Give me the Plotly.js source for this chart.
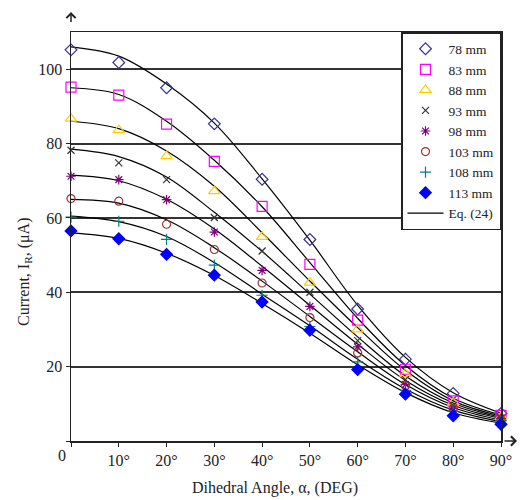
<!DOCTYPE html>
<html>
<head>
<meta charset="utf-8">
<script src="https://cdn.plot.ly/plotly-3.0.1.min.js"></script>
<style>html,body{margin:0;padding:0;background:#fff;}#chart{width:520px;height:500px;}</style>
</head>
<body>
<div id="chart"></div>
<script>
// Dihedral angle (degrees)
var angles = [0, 10, 20, 30, 40, 50, 60, 70, 80, 90];
var xTickVals = [0, 10, 20, 30, 40, 50, 60, 70, 80, 90];
var xTickText = ['', '10°', '20°', '30°', '40°', '50°', '60°', '70°', '80°', '90°'];
var yTickVals = [0, 20, 40, 60, 80, 100];
var yTickText = ['', '20', '40', '60', '80', '100'];

var seriesNames = ['78 mm', '83 mm', '88 mm', '93 mm', '98 mm', '103 mm', '108 mm', '113 mm'];

// Measured current (µA)
var meas78  = [105.2, 101.8, 95.0, 85.3, 70.4, 54.2, 35.5, 22.0, 12.8, 7.4];
var meas83  = [95.2, 93.0, 85.2, 75.2, 63.1, 47.5, 32.5, 19.3, 10.8, 6.9];
var meas88  = [86.7, 83.6, 76.6, 67.2, 54.9, 42.6, 30.0, 18.0, 10.3, 6.5];
var meas93  = [78.2, 74.8, 70.3, 60.1, 51.1, 40.0, 27.0, 16.5, 9.5, 6.2];
var meas98  = [71.2, 70.3, 64.9, 56.2, 45.9, 36.2, 25.3, 15.2, 8.8, 6.0];
var meas103 = [65.2, 64.5, 58.3, 51.5, 42.5, 33.2, 23.7, 14.8, 8.6, 5.8];
var meas108 = [60.2, 59.1, 54.2, 47.3, 39.2, 30.8, 21.3, 13.6, 8.0, 5.4];
var meas113 = [56.5, 54.4, 50.2, 44.6, 37.4, 29.8, 19.2, 12.6, 6.8, 4.5];

// Eq. (24) curves (µA)
var eq78  = [106.0, 103.5, 96.0, 85.5, 70.5, 54.0, 36.5, 22.5, 13.0, 7.5];
var eq83  = [95.0, 93.2, 86.0, 75.5, 63.0, 48.0, 33.0, 20.3, 11.5, 7.0];
var eq88  = [86.0, 84.0, 78.0, 68.5, 56.0, 43.0, 30.5, 19.0, 10.8, 6.7];
var eq93  = [78.5, 76.5, 71.0, 61.5, 51.0, 39.5, 28.0, 17.5, 10.2, 6.3];
var eq98  = [71.5, 70.0, 65.0, 57.0, 47.0, 36.5, 26.0, 16.3, 9.6, 6.0];
var eq103 = [65.0, 64.0, 59.5, 52.0, 43.0, 33.5, 24.0, 15.2, 9.0, 5.6];
var eq108 = [60.5, 59.0, 55.0, 48.0, 39.5, 31.0, 22.0, 14.0, 8.3, 5.2];
var eq113 = [56.0, 54.5, 50.5, 44.5, 37.0, 29.0, 20.5, 13.0, 7.6, 4.8];

var measured = [meas78, meas83, meas88, meas93, meas98, meas103, meas108, meas113];
var fitted = [eq78, eq83, eq88, eq93, eq98, eq103, eq108, eq113];

var symbols = ['diamond-open', 'square-open', 'triangle-up-open', 'x-thin-open', 'asterisk-open', 'circle-open', 'cross-thin-open', 'diamond'];
var colors = ['#333399', '#ff00ff', '#ffcc00', '#333333', '#800080', '#993333', '#008080', '#0000ff'];
var sizes = [9, 10, 10, 7, 8, 8, 8, 9];

var serif = 'Liberation Serif, Times New Roman, serif';
var traces = [];
fitted.forEach(function (vals, i) {
  traces.push({
    x: angles, y: vals, type: 'scatter', mode: 'lines',
    line: {color: '#000', width: 1.2, shape: 'spline', smoothing: 1},
    name: 'Eq. (24)', showlegend: i === 0, legendrank: 100, hoverinfo: 'skip', cliponaxis: false
  });
});
measured.forEach(function (vals, i) {
  traces.push({
    x: angles, y: vals, type: 'scatter', mode: 'markers',
    marker: {symbol: symbols[i], color: colors[i], size: sizes[i], line: {color: colors[i], width: 1.2}},
    name: seriesNames[i], legendrank: i + 1, cliponaxis: false
  });
});

var layout = {
  width: 520, height: 500,
  margin: {l: 71, r: 19, t: 32, b: 59},
  paper_bgcolor: '#fff', plot_bgcolor: '#fff',
  showlegend: true,
  font: {family: serif, size: 16, color: '#222'},
  xaxis: {
    range: [0, 90], tickvals: xTickVals, ticktext: xTickText,
    showgrid: false, zeroline: false, showline: true, mirror: true,
    linecolor: '#222', linewidth: 1.5, ticks: 'outside', ticklen: 4, tickcolor: '#222',
    tickfont: {family: serif, size: 16, color: '#222'}
  },
  yaxis: {
    range: [0, 110], tickvals: yTickVals, ticktext: yTickText,
    showgrid: true, gridcolor: '#333', gridwidth: 2, zeroline: false,
    showline: true, mirror: true, linecolor: '#222', linewidth: 1.5,
    ticks: 'outside', ticklen: 4, tickcolor: '#222',
    tickfont: {family: serif, size: 16, color: '#222'}
  },
  legend: {
    x: 1, xanchor: 'right', y: 1, yanchor: 'top',
    bgcolor: '#fff', bordercolor: '#222', borderwidth: 1.5,
    font: {family: serif, size: 13.5, color: '#222'}, tracegroupgap: 0, itemwidth: 36
  },
  annotations: [
    {xref: 'paper', yref: 'paper', x: 0, y: 1 + 20 / 409, ax: 0, ay: 20, showarrow: true,
     arrowhead: 4, arrowsize: 1.2, arrowwidth: 1.5, arrowcolor: '#222', text: ' '},
    {xref: 'paper', yref: 'paper', x: 1 + 16 / 430, y: 0, ax: -16, ay: 0, showarrow: true,
     arrowhead: 4, arrowsize: 1.2, arrowwidth: 1.5, arrowcolor: '#222', text: ' '},
    {xref: 'paper', yref: 'paper', x: -9 / 430, y: -15 / 409, xanchor: 'center', yanchor: 'middle',
     showarrow: false, text: '0', font: {family: serif, size: 16, color: '#222'}},
    {xref: 'paper', yref: 'paper', x: (275 - 71) / 430, y: -47 / 409, xanchor: 'center', yanchor: 'middle',
     showarrow: false, text: 'Dihedral Angle, α, (DEG)', font: {family: serif, size: 16, color: '#222'}},
    {xref: 'paper', yref: 'paper', x: -(71 - 24) / 430, y: (441 - 272) / 409, xanchor: 'center', yanchor: 'middle',
     textangle: -90, showarrow: false, text: 'Current, I<sub>R</sub>, (μA)', font: {family: serif, size: 16, color: '#222'}}
  ]
};

Plotly.newPlot('chart', traces, layout, {displayModeBar: false, staticPlot: true});
</script>
</body>
</html>
